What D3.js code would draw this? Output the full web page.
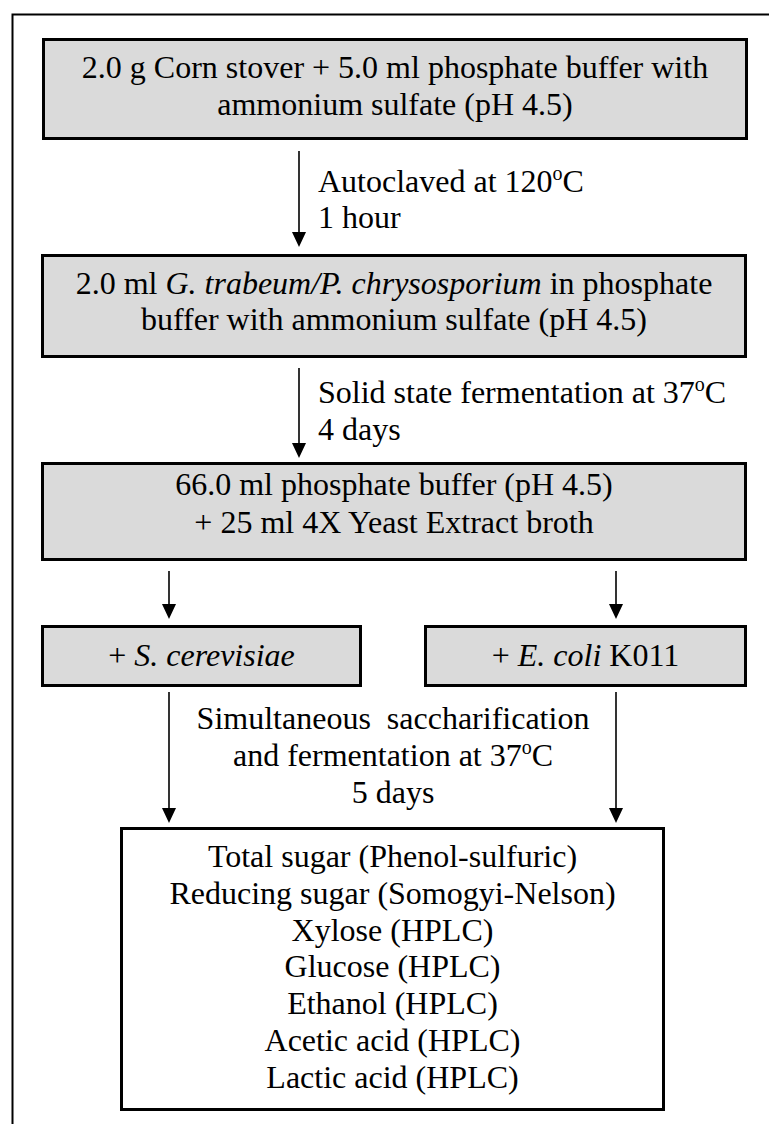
<!DOCTYPE html>
<html><head><meta charset="utf-8">
<script src="https://cdn.jsdelivr.net/npm/d3@7"></script>
<style>
body{margin:0;background:#fff}
svg{display:block}
text{font-family:"Liberation Serif","Times New Roman",Times,serif;font-size:32px;fill:#000;white-space:pre}
</style>
</head><body>
<svg id="c" width="769" height="1124"></svg>
<script>
// ---- content (text only) ----
// each line is a list of segments: [text, style] with style "" | "i" (italic) | "sup" (superscript)
const box1Lines = [[["2.0 g Corn stover + 5.0 ml phosphate buffer with",""]],[["ammonium sulfate (pH 4.5)",""]]];
const box2Lines = [[["2.0 ml ",""],["G. trabeum/P. chrysosporium","i"],[" in phosphate",""]],[["buffer with ammonium sulfate (pH 4.5)",""]]];
const box3Lines = [[["66.0 ml phosphate buffer (pH 4.5)",""]],[["+ 25 ml 4X Yeast Extract broth",""]]];
const box4aLines = [[["+ ",""],["S. cerevisiae","i"]]];
const box4bLines = [[["+ ",""],["E. coli","i"],[" K011",""]]];
const box5Lines = [
  [["Total sugar (Phenol-sulfuric)",""]],
  [["Reducing sugar (Somogyi-Nelson)",""]],
  [["Xylose (HPLC)",""]],
  [["Glucose (HPLC)",""]],
  [["Ethanol (HPLC)",""]],
  [["Acetic acid (HPLC)",""]],
  [["Lactic acid (HPLC)",""]]
];
const step1Lines = [[["Autoclaved at 120",""],["o","sup"],["C",""]],[["1 hour",""]]];
const step2Lines = [[["Solid state fermentation at 37",""],["o","sup"],["C",""]],[["4 days",""]]];
const step3Lines = [[["Simultaneous  saccharification",""]],[["and fermentation at 37",""],["o","sup"],["C",""]],[["5 days",""]]];

// ---- layout ----
const GRAY = "#dadada";
const boxLayout = [
  {lines:box1Lines, x:42, y:38,  w:706, h:102, fill:GRAY, base:[78,115]},
  {lines:box2Lines, x:41, y:254, w:706, h:104, fill:GRAY, base:[294,330]},
  {lines:box3Lines, x:41, y:462, w:706, h:99,  fill:GRAY, base:[495,533]},
  {lines:box4aLines,x:41, y:625, w:321, h:62,  fill:GRAY, base:[666]},
  {lines:box4bLines,x:424,y:625, w:323, h:62,  fill:GRAY, base:[666]},
  {lines:box5Lines, x:120,y:827, w:545, h:284, fill:"#fff", base:[867,904,941,977,1014,1051,1088]}
];
const arrowLayout = [
  {x:299, y1:151, y2:247},
  {x:299, y1:368, y2:458},
  {x:169, y1:571, y2:619},
  {x:616, y1:571, y2:619},
  {x:169, y1:692, y2:823},
  {x:616, y1:692, y2:823}
];
const labelLayout = [
  {lines:step1Lines, x:318, anchor:"start", base:[192,228]},
  {lines:step2Lines, x:318, anchor:"start", base:[403,440]},
  {lines:step3Lines, x:393, anchor:"middle", base:[729,766,803]}
];

const svg = d3.select("#c");

// outer frame (right and bottom edges run off the page)
svg.append("path")
  .attr("d","M12.5,1124 V14.5 H769")
  .attr("fill","none").attr("stroke","#000").attr("stroke-width",2);

function writeLine(parent, x, y, anchor, segs){
  const t = parent.append("text").attr("x",x).attr("y",y).attr("text-anchor",anchor);
  segs.forEach(([s,st],i)=>{
    const ts = t.append("tspan").text(s);
    if(st==="i") ts.attr("font-style","italic");
    if(st==="sup"){ ts.attr("font-size","20px").attr("dy",-12); }
    else if(i>0 && segs[i-1][1]==="sup"){ ts.attr("dy",12); }
  });
}

// boxes
const g = svg.append("g");
boxLayout.forEach(b=>{
  g.append("rect").attr("x",b.x+1.5).attr("y",b.y+1.5)
    .attr("width",b.w-3).attr("height",b.h-3)
    .attr("fill",b.fill).attr("stroke","#000").attr("stroke-width",3);
  b.lines.forEach((ln,i)=> writeLine(g, b.x+b.w/2, b.base[i], "middle", ln));
});

// arrows
arrowLayout.forEach(a=>{
  svg.append("line").attr("x1",a.x).attr("x2",a.x).attr("y1",a.y1).attr("y2",a.y2-14)
    .attr("stroke","#000").attr("stroke-width",1.6);
  svg.append("path").attr("d",`M${a.x-7},${a.y2-15} L${a.x+7},${a.y2-15} L${a.x},${a.y2} Z`).attr("fill","#000");
});

// step labels
labelLayout.forEach(l=>{
  l.lines.forEach((ln,i)=> writeLine(svg, l.x, l.base[i], l.anchor, ln));
});
</script>
</body></html>
